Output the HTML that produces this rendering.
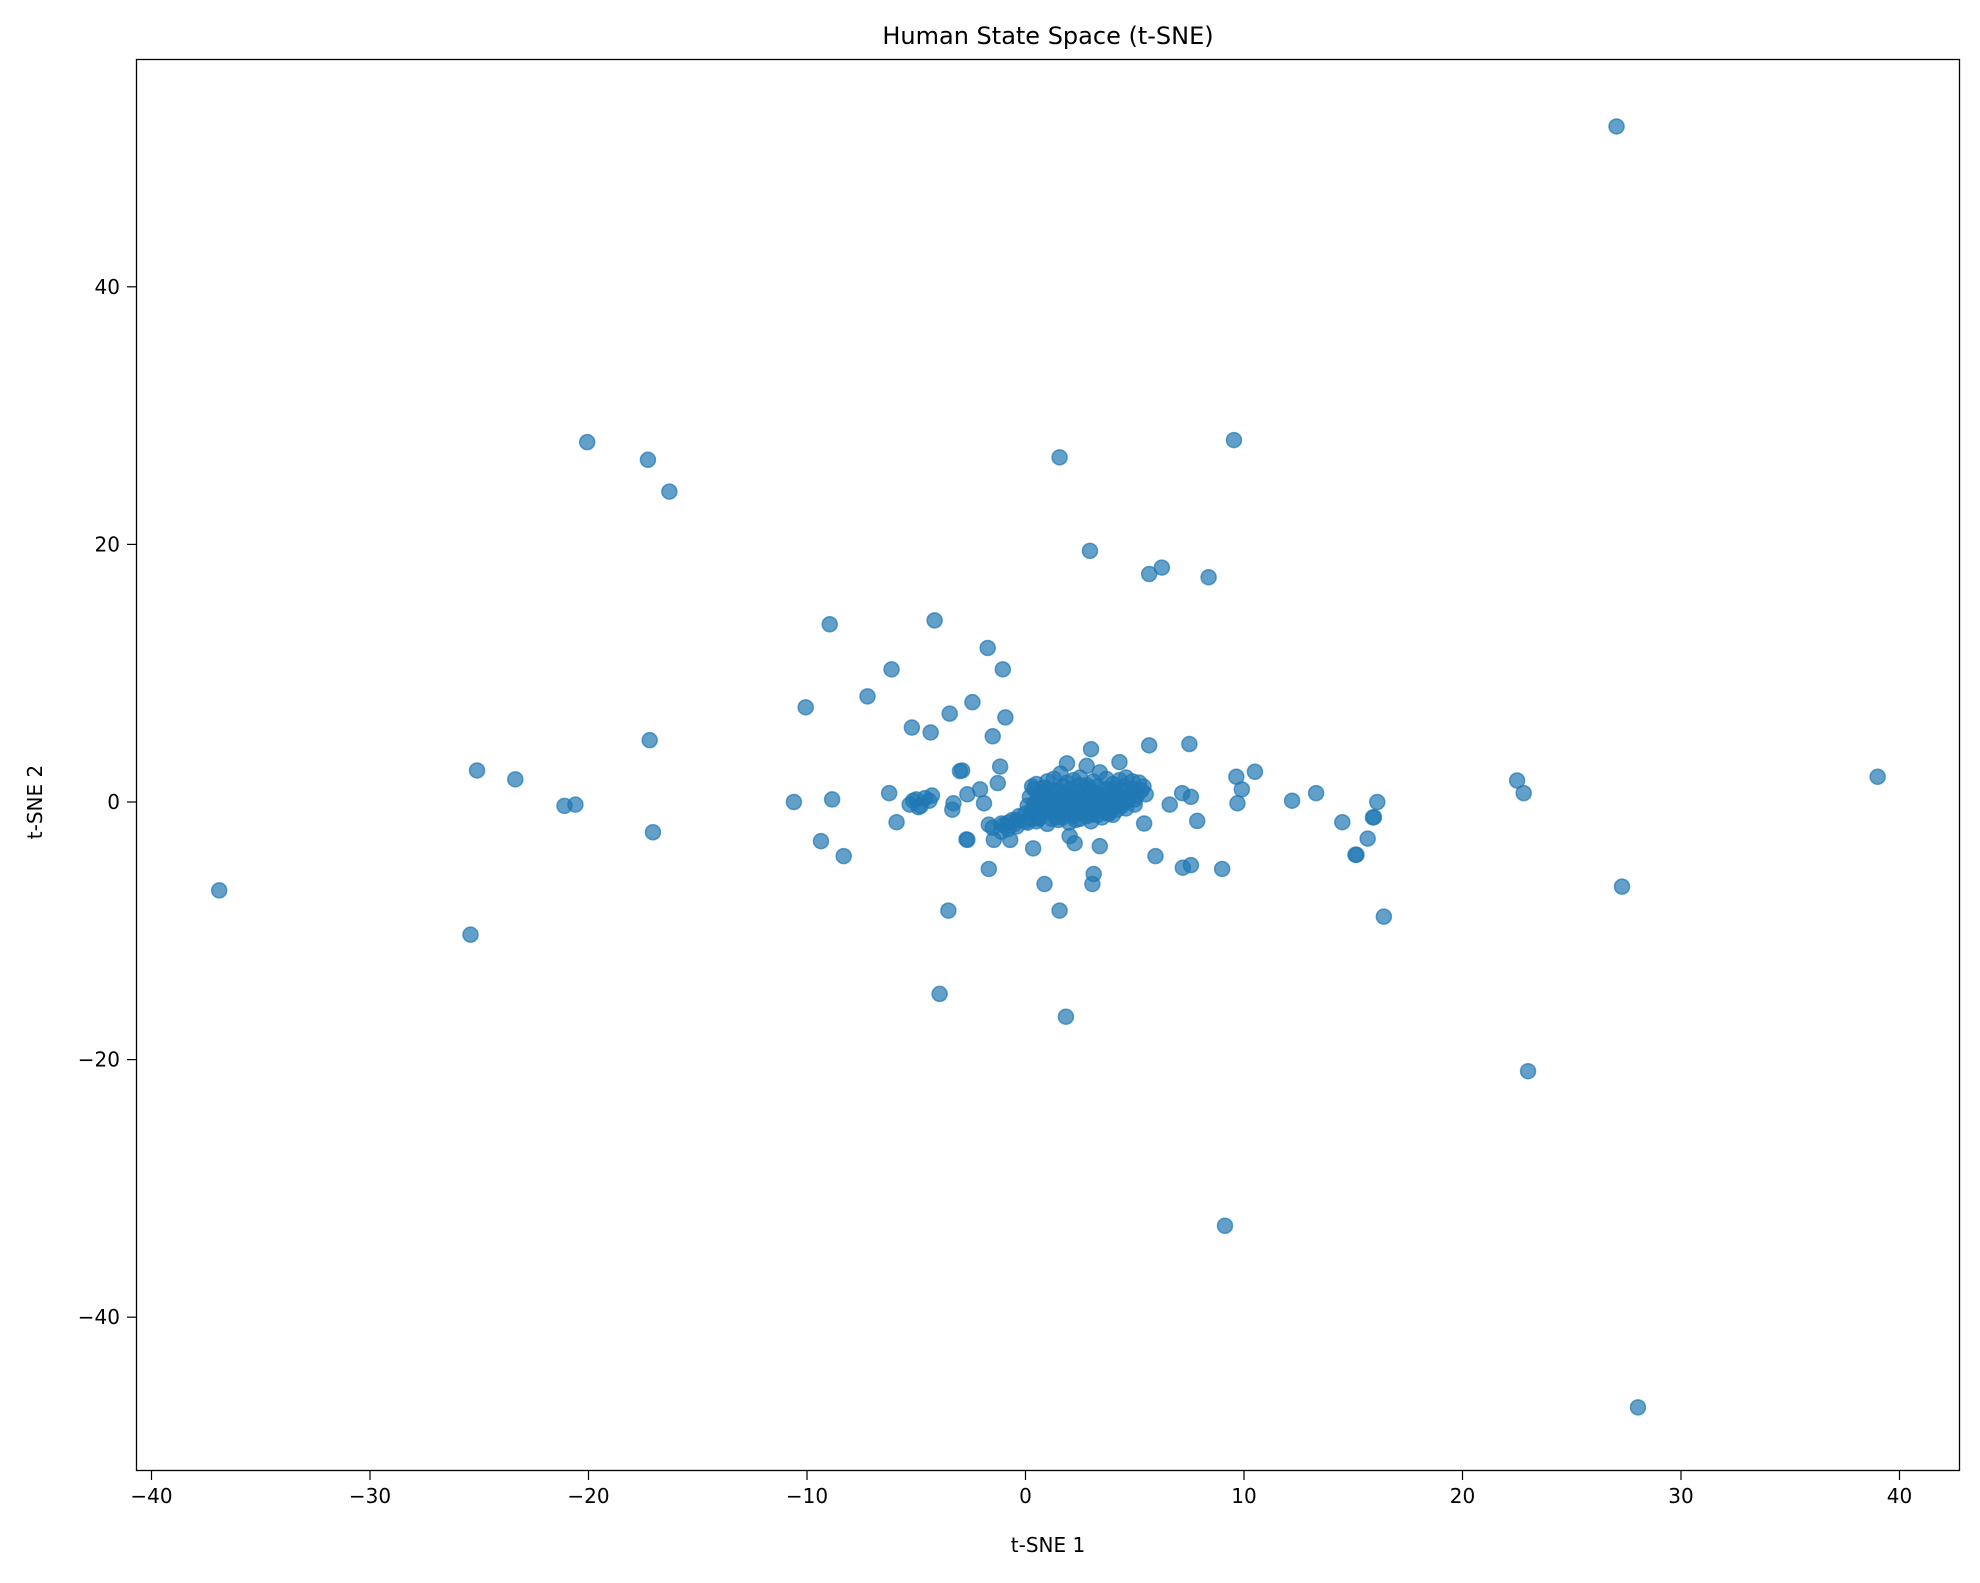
<!DOCTYPE html>
<html><head><meta charset="utf-8"><style>
body{margin:0;background:#fff;}
svg text{font-family:"DejaVu Sans","Liberation Sans",sans-serif;fill:#000;}
</style></head><body>
<svg id="chart" width="1980" height="1578" xmlns="http://www.w3.org/2000/svg">
<rect width="1980" height="1578" fill="#fff"/>
<text x="1048" y="44" font-size="24" text-anchor="middle">Human State Space (t-SNE)</text>
<g id="ticks"></g>
<g id="points"></g>
<rect x="136.5" y="59.5" width="1823" height="1411" fill="none" stroke="#000" stroke-width="1.3"/>
<text x="1048" y="1552" font-size="20" text-anchor="middle">t-SNE 1</text>
<text x="42" y="802" font-size="20" text-anchor="middle" transform="rotate(-90 42 802)">t-SNE 2</text>
</svg>
<script>
const xTicks=[-40,-30,-20,-10,0,10,20,30,40];
const yTicks=[-40,-20,0,20,40];
const xs=[27.05,-20.06,-17.28,-16.3,1.56,9.54,2.95,6.24,5.66,8.38,-8.96,-4.16,-1.73,-1.04,-6.13,-7.23,-10.06,-2.43,-3.47,-0.92,-5.2,-4.34,-1.5,-17.2,5.66,7.5,-25.1,-23.35,39.0,22.5,22.8,10.5,9.65,9.9,9.7,12.2,13.3,14.5,16.1,15.95,15.66,15.1,16.4,-21.1,-20.6,-17.05,-36.9,-25.4,-10.6,-8.85,-9.36,-8.32,-6.24,-5.9,-3.53,-3.93,0.87,1.56,1.85,3.12,3.06,3.4,5.95,7.2,7.57,9.0,7.86,7.17,7.57,6.6,5.43,23.0,27.3,9.13,28.03,-1.68,-2.66,-1.45,-1.1,-1.68,-0.7,0.35,2.02,2.25,-2.9,-1.16,-1.27,-2.08,-1.9,-3.3,-3.35,-2.66,-4.28,-5.14,-4.9,-5.3,-4.6,-4.4,-4.8,-5.0,-3.0,-2.7,15.9,15.15,
0.3,0.5,0.8,1.0,1.3,1.6,1.9,2.2,2.5,2.8,3.1,3.4,3.7,4.0,4.3,4.6,4.9,5.2,5.4,
0.2,0.6,0.9,1.2,1.5,1.8,2.1,2.4,2.7,3.0,3.3,3.6,3.9,4.2,4.5,4.8,5.1,5.5,
0.1,0.4,0.7,1.1,1.4,1.7,2.0,2.3,2.6,2.9,3.2,3.5,3.8,4.1,4.4,4.7,5.0,
-0.6,-0.3,0.0,0.3,0.7,1.0,1.4,1.8,2.2,2.6,3.0,3.4,3.8,4.2,4.6,
-1.1,-0.8,-0.4,0.1,0.5,1.0,1.5,2.0,2.5,3.0,3.5,4.0,
0.8,1.6,2.0,2.9,3.3,4.2,1.9,2.1,3.0,2.8,4.3,
0.4,0.9,1.3,1.7,2.1,2.5,2.9,3.3,3.7,4.1,4.5,4.9,5.3,
0.6,1.0,1.4,1.8,2.2,2.6,3.0,3.4,3.8,4.2,4.6,5.0,
0.3,0.8,1.2,1.6,2.0,2.4,2.8,3.2,3.6,4.0,4.4,
-0.8,-0.4,0.2,0.6,1.2,1.7,2.3,2.8,3.3,3.8,
-1.5,-1.0,-0.5,0.0,0.6];
const ys=[52.45,27.94,26.57,24.1,26.76,28.1,19.5,18.2,17.7,17.45,13.8,14.1,11.96,10.3,10.3,8.2,7.35,7.75,6.86,6.57,5.78,5.4,5.1,4.8,4.4,4.5,2.45,1.76,1.96,1.67,0.69,2.35,1.96,0.98,-0.1,0.1,0.69,-1.57,0,-1.18,-2.84,-4.1,-8.9,-0.3,-0.2,-2.35,-6.86,-10.3,0,0.2,-3.04,-4.2,0.69,-1.57,-8.43,-14.9,-6.37,-8.43,-16.67,-5.59,-6.37,-3.43,-4.2,-5.1,-4.9,-5.2,-1.47,0.69,0.4,-0.2,-1.67,-20.9,-6.57,-32.9,-47.0,-5.2,-2.94,-2.94,-1.67,-1.76,-2.94,-3.6,-2.65,-3.2,2.45,2.75,1.47,0.98,-0.1,-0.1,-0.6,0.6,0.5,0.1,-0.4,-0.2,0.3,0.1,-0.3,0.2,2.4,-2.9,-1.2,-4.1,
1.2,1.4,1.1,1.6,1.8,2.2,1.5,1.7,1.9,1.3,1.6,2.3,1.8,1.4,1.7,1.9,1.6,1.5,1.2,
0.4,0.6,0.8,0.5,0.9,0.7,0.5,0.8,0.6,0.9,0.7,0.5,0.8,0.6,0.9,0.7,0.5,0.6,
-0.3,-0.1,0.1,-0.2,0.0,-0.4,-0.1,0.2,-0.3,0.1,-0.2,0.0,-0.3,0.1,-0.1,0.2,-0.2,
-1.4,-1.1,-0.9,-0.8,-1.0,-0.7,-1.2,-0.9,-1.1,-0.8,-1.0,-0.7,-0.9,-0.6,-0.5,
-2.3,-2.1,-1.9,-1.6,-1.5,-1.7,-1.4,-1.6,-1.3,-1.5,-1.2,-1.0,
0.0,-0.2,0.3,0.1,-0.3,0.4,3.0,-0.9,4.1,2.8,3.1,
1.0,1.1,0.9,1.2,1.0,1.3,1.1,1.2,1.0,1.1,1.2,1.0,0.9,
0.2,0.3,0.1,0.2,0.3,0.2,0.1,0.3,0.2,0.1,0.3,0.2,
-0.6,-0.5,-0.6,-0.5,-0.7,-0.6,-0.5,-0.6,-0.4,-0.5,-0.3,
-1.6,-1.4,-1.3,-1.2,-1.3,-1.2,-1.4,-1.1,-1.0,-0.9,
-2.0,-1.8,-1.7,-1.5,-1.3];
const X0=1025.5, XS=21.85, Y0=802, YS=12.88;
function sx(v){return X0+v*XS;}
function sy(v){return Y0-v*YS;}
const NS="http://www.w3.org/2000/svg";
const tg=document.getElementById('ticks');
xTicks.forEach(t=>{
  const l=document.createElementNS(NS,'line');
  l.setAttribute('x1',sx(t));l.setAttribute('x2',sx(t));l.setAttribute('y1',1471);l.setAttribute('y2',1480);l.setAttribute('stroke','#000');l.setAttribute('stroke-width','1.2');
  
  
  tg.appendChild(l);
  const tx=document.createElementNS(NS,'text');
  tx.setAttribute('x',sx(t));tx.setAttribute('y',1503);tx.setAttribute('font-size','20');tx.setAttribute('text-anchor','middle');
  tx.textContent=(t<0?'\u2212':'')+Math.abs(t);
  
  
  tg.appendChild(tx);
});
yTicks.forEach(t=>{
  const l=document.createElementNS(NS,'line');
  l.setAttribute('x1',127);l.setAttribute('x2',136);l.setAttribute('y1',sy(t));l.setAttribute('y2',sy(t));l.setAttribute('stroke','#000');l.setAttribute('stroke-width','1.2');
  
  
  tg.appendChild(l);
  const tx=document.createElementNS(NS,'text');
  tx.setAttribute('x',120);tx.setAttribute('y',sy(t)+7);tx.setAttribute('font-size','20');tx.setAttribute('text-anchor','end');
  tx.textContent=(t<0?'\u2212':'')+Math.abs(t);
  
  
  tg.appendChild(tx);
});
const pg=document.getElementById('points');
for(let i=0;i<xs.length;i++){
  const c=document.createElementNS(NS,'circle');
  c.setAttribute('cx',sx(xs[i]));c.setAttribute('cy',sy(ys[i]));c.setAttribute('r',7.5);
  c.setAttribute('fill','#1f77b4');c.setAttribute('fill-opacity','0.7');
  c.setAttribute('stroke','#1f77b4');c.setAttribute('stroke-opacity','0.7');c.setAttribute('stroke-width','1.5');
  
  
  pg.appendChild(c);
}
</script>
</body></html>
